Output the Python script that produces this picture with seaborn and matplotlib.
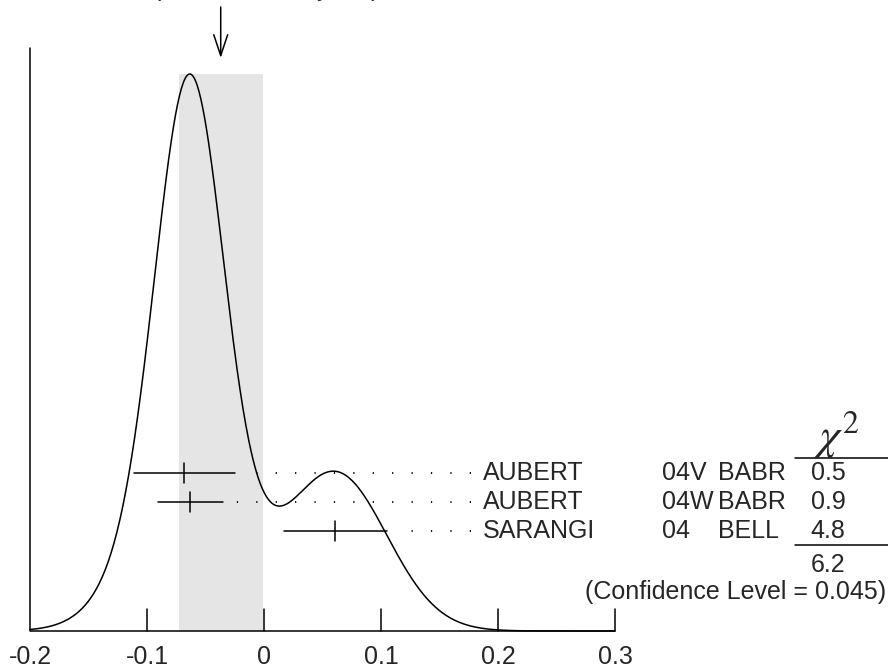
import numpy as np
import pandas as pd
import matplotlib.pyplot as plt
import seaborn as sns

# measurements (value, error) and table text
authors = ["AUBERT", "AUBERT", "SARANGI"]
years = ["04V", "04W", "04"]
expts = ["BABR", "BABR", "BELL"]
values = [-0.068, -0.063, 0.061]
errors = [0.043, 0.028, 0.044]
chi2 = ["0.5", "0.9", "4.8"]
chi2_total = "6.2"
conf_level = "0.045"

# weighted average and scaled error
avg = -0.037
avg_err = 0.036
scale_factor = "1.8"

xticks = [-0.2, -0.1, 0, 0.1, 0.2, 0.3]
xtick_labels = ["-0.2", "-0.1", "0", "0.1", "0.2", "0.3"]

sns.set_style("white")
plt.rcParams["font.family"] = ["Liberation Sans", "DejaVu Sans"]
plt.rcParams["mathtext.fontset"] = "stix"

# ideogram: each measurement a gaussian with area ~ 1/sigma
xs = np.linspace(xticks[0], xticks[-1], 600)
ideo = np.zeros_like(xs)
for v, e in zip(values, errors):
    ideo += np.exp(-0.5 * ((xs - v) / e) ** 2) / e ** 2
ideo = ideo / ideo.max()
curve = pd.DataFrame({"x": xs, "ideogram": ideo})

fig = plt.figure(figsize=(8.88, 6.67), dpi=100)
ax = fig.add_axes([0, 0, 1, 1])
ax.axis("off")
ax.set_xlim(-264 / 1170, 624 / 1170)
ax.set_ylim(-36 / 557, 631 / 557)

lw = 1.1
fs = 18

# shaded band for average +- error
ax.fill_between([avg - avg_err, avg + avg_err], 0, 1, color="#e5e5e5", lw=0, zorder=0)

sns.lineplot(data=curve, x="x", y="ideogram", color="black", lw=lw, ax=ax, zorder=3)

# axes drawn by hand
ax.plot([xticks[0], xticks[-1]], [0, 0], color="black", lw=lw, solid_capstyle="butt")
ax.plot([xticks[0], xticks[0]], [0, 1.0467], color="black", lw=lw)
for t, lab in zip(xticks, xtick_labels):
    if t != xticks[0]:
        ax.plot([t, t], [0, 0.0395], color="black", lw=lw)
    ax.text(t, -0.046, lab, ha="center", va="center", fontsize=fs)

# arrow at the weighted average
ax.annotate("", xy=(avg, 1.0287), xytext=(avg, 1.1203),
            arrowprops=dict(arrowstyle="->,head_length=0.75,head_width=0.25",
                            color="black", lw=lw, shrinkA=0, shrinkB=0,
                            mutation_scale=20))
fig.text(266 / 888, 1 + 4 / 667, f"(Error scaled by {scale_factor})",
         ha="center", va="baseline", fontsize=fs)

# error bars, dotted leaders and the table
dot_right = 0.177
gap = 12 / 1170
for i in range(len(values)):
    y = 0.2837 - 0.0521 * i
    v, e = values[i], errors[i]
    ax.plot([v - e, v + e], [y, y], color="black", lw=lw, zorder=4)
    ax.plot([v, v], [y - 0.018, y + 0.018], color="black", lw=lw, zorder=4)
    ax.plot([dot_right, v + e + gap], [y, y], color="black", lw=1.3,
            linestyle=(0, (0.7, 10.05)), dash_capstyle="butt")
    ax.text(0.1872, y, authors[i], ha="left", va="center", fontsize=fs)
    ax.text(0.340, y, years[i], ha="left", va="center", fontsize=fs)
    ax.text(0.388, y, expts[i], ha="left", va="center", fontsize=fs)
    ax.text(0.482, y, chi2[i], ha="center", va="center", fontsize=fs)

ax.text(0.4895, 0.352, r"$\chi^2$", ha="center", va="center", fontsize=33)
ax.plot([0.4538, 0.5333], [0.3106, 0.3106], color="black", lw=lw)
ax.plot([0.4538, 0.5333], [0.1544, 0.1544], color="black", lw=lw)
ax.text(0.482, 0.1185, chi2_total, ha="center", va="center", fontsize=fs)
ax.text(0.532, 0.070, f"(Confidence Level = {conf_level})",
        ha="right", va="center", fontsize=fs)

plt.savefig("out.png", dpi=100)
